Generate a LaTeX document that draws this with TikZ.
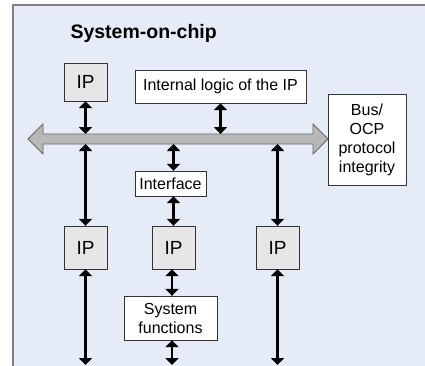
\documentclass[tikz,border=0pt]{standalone}
\usepackage{fontspec}
\setmainfont{Liberation Sans}
\usetikzlibrary{arrows.meta, positioning, calc}
\usepackage{xcolor}
\definecolor{chipbg}{HTML}{E6ECF7}
\definecolor{ipgray}{HTML}{E6E6E6}
\definecolor{busgray}{HTML}{B8B8B8}
\tikzstyle{ipbox} = [rectangle, draw=black!80, fill=ipgray, minimum width=43, minimum height=38,
    inner sep=0pt, font=\fontsize{19}{22}\selectfont]
\tikzstyle{block} = [rectangle, draw=black!80, fill=white, inner sep=0pt, align=center,
    font=\fontsize{16}{19}\selectfont]
\tikzstyle{link} = [line width=2.2pt, {Triangle[length=7pt,width=13pt]}-{Triangle[length=7pt,width=13pt]}]

\begin{document}
\begin{tikzpicture}[x=1pt, y=-1pt]
\useasboundingbox (0,0) rectangle (425,365);
% chip background
\fill[white] (0,0) rectangle (425,365);
\draw[fill=chipbg, draw=black!50, line width=1.5pt] (13,5) rectangle (440,380);
\node (title) [anchor=west, font=\bfseries\fontsize{19.5}{22}\selectfont] at (67,33) {System-on-chip};

% blocks
\node (ipa) [ipbox] at (85.5,82) {IP};
\node (logic) [block, minimum width=171, minimum height=33] at (220.5,86.5) {Internal logic of the IP};
\node (ocp) [block, minimum width=78, minimum height=91] at (367,139.5) {Bus/\\OCP\\protocol\\integrity};
\node (iface) [block, minimum width=71, minimum height=25] at (170.5,183.5) {Interface};
\node (ipb) [ipbox, minimum height=43] at (85.5,247.5) {IP};
\node (ipc) [ipbox, minimum height=43] at (173.5,247.5) {IP};
\node (ipd) [ipbox, minimum height=43] at (277.5,247.5) {IP};
\node (sysf) [block, minimum width=93, minimum height=44] at (170.5,318) {System\\functions};

% bus
\draw[fill=busgray, draw=black!60, line width=0.8pt] (28,139) -- (43,124) -- (43,134) -- (313,134)
    -- (313,124) -- (328,139) -- (313,154) -- (313,144) -- (43,144) -- (43,154) -- cycle;
\coordinate (busN) at (0,134);
\coordinate (busS) at (0,144);
\coordinate (bot) at (0,365);

% links
\draw[link] (ipa.south) -- (ipa.south |- busN);
\draw[link] (logic.south) -- (logic.south |- busN);
\draw[link] (ipb.north) -- (ipb.north |- busS);
\draw[link] (ipc.north |- iface.north) -- (ipc.north |- busS);
\draw[link] (ipc.north) -- (ipc.north |- iface.south);
\draw[link] (ipd.north) -- (ipd.north |- busS);
\draw[link] ([xshift=-1.5pt]ipc.south) -- ([xshift=-1.5pt]ipc.south |- sysf.north);
\draw[link] ([xshift=-1.5pt]ipc.south |- sysf.south) -- ([xshift=-1.5pt]ipc.south |- bot);
\draw[link] (ipb.south) -- (ipb.south |- bot);
\draw[link] (ipd.south) -- (ipd.south |- bot);
\end{tikzpicture}
\end{document}
